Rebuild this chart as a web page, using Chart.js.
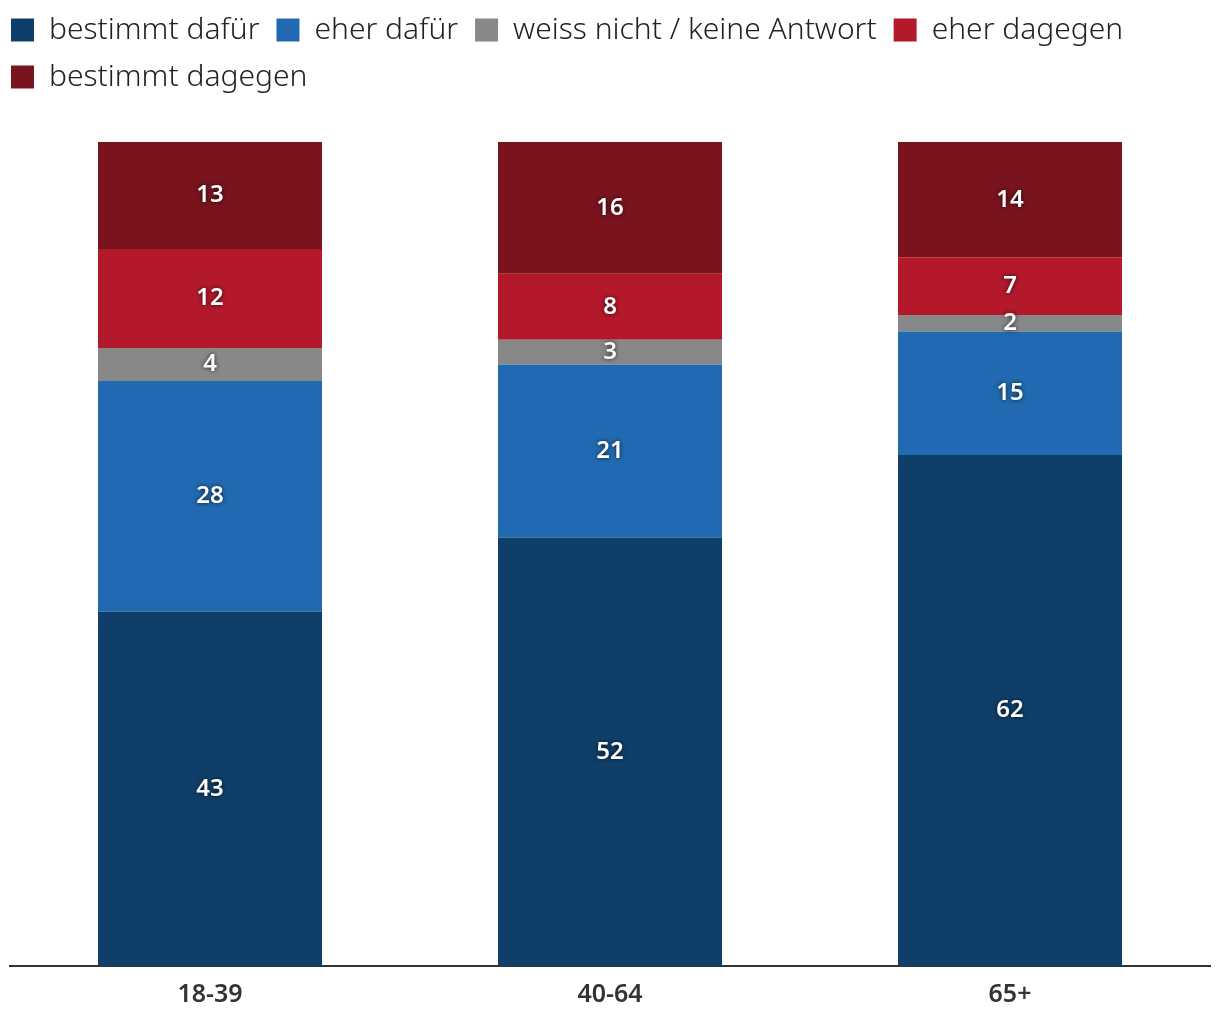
<!DOCTYPE html>
<html>
<head>
<meta charset="utf-8">
<script src="https://cdn.jsdelivr.net/npm/chart.js@4"></script>
<style>
  html, body { margin: 0; padding: 0; background: #fff; }
  #wrap { width: 1220px; height: 1020px; }
</style>
</head>
<body>
<div id="wrap"><canvas id="chart"></canvas></div>
<script>
// Data
const ageGroups = ['18-39', '40-64', '65+'];
const seriesNames = ['bestimmt dafür', 'eher dafür', 'weiss nicht / keine Antwort', 'eher dagegen', 'bestimmt dagegen'];
const bestimmtDafuer = [43, 52, 62];
const eherDafuer = [28, 21, 15];
const weissNicht = [4, 3, 2];
const eherDagegen = [12, 8, 7];
const bestimmtDagegen = [13, 16, 14];
const seriesColors = ['#0f3f69', '#216ab1', '#888888', '#b3192b', '#79141f'];

const FONT = '"Noto Sans", sans-serif';
const LEGEND_PAD = 17;

// Value labels drawn at the centre of each segment
const segmentLabels = {
  id: 'segmentLabels',
  afterDatasetsDraw(chart) {
    const ctx = chart.ctx;
    ctx.save();
    ctx.font = '600 24px ' + FONT;
    ctx.fillStyle = '#fff';
    ctx.textAlign = 'center';
    ctx.textBaseline = 'middle';
    ctx.shadowColor = 'rgba(0,0,0,0.75)';
    ctx.shadowBlur = 4;
    chart.data.datasets.forEach((ds, i) => {
      const meta = chart.getDatasetMeta(i);
      meta.data.forEach((bar, j) => {
        const { x, y, base } = bar.getProps(['x', 'y', 'base'], true);
        ctx.fillText(String(ds.data[j]), x, (y + base) / 2);
      });
    });
    ctx.restore();
  }
};

// Extra space below the legend, and legend pulled to the top-left corner
const legendGap = {
  id: 'legendGap',
  beforeInit(chart) {
    const origFit = chart.legend.fit;
    chart.legend.fit = function () {
      origFit.bind(chart.legend)();
      this.height += 30;
    };
  },
  afterLayout(chart) {
    chart.legend.left = 11 - LEGEND_PAD;
    chart.legend.top = -2;
  }
};

new Chart(document.getElementById('chart'), {
  type: 'bar',
  data: {
    labels: ageGroups,
    datasets: [bestimmtDafuer, eherDafuer, weissNicht, eherDagegen, bestimmtDagegen].map((d, i) => ({
      label: seriesNames[i],
      data: d,
      backgroundColor: seriesColors[i],
      borderWidth: 0,
      categoryPercentage: 1,
      barPercentage: 0.56
    }))
  },
  options: {
    responsive: true,
    maintainAspectRatio: false,
    animation: false,
    layout: { padding: { left: 10, right: 10, top: 8, bottom: -4 } },
    plugins: {
      legend: {
        position: 'top',
        align: 'start',
        labels: {
          boxWidth: 23,
          boxHeight: 23,
          padding: LEGEND_PAD,
          color: '#222',
          font: { family: FONT, size: 30, weight: '300' }
        }
      },
      tooltip: { enabled: false }
    },
    scales: {
      x: {
        stacked: true,
        grid: { display: false, drawTicks: false },
        border: { display: true, color: '#333', width: 2 },
        ticks: {
          color: '#333',
          padding: 14,
          font: { family: FONT, size: 25, weight: '600' }
        }
      },
      y: {
        stacked: true,
        min: 0,
        max: 100,
        display: false
      }
    }
  },
  plugins: [segmentLabels, legendGap]
});
</script>
</body>
</html>
